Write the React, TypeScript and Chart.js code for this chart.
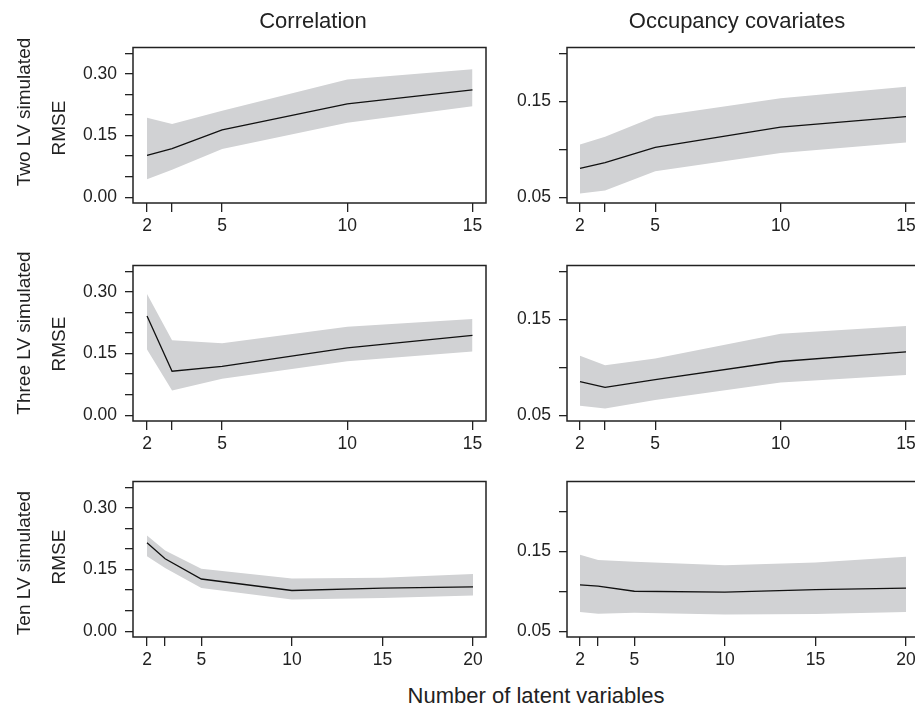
import React, { useEffect, useRef } from "react";
import { Chart, registerables } from "chart.js";

Chart.register(...registerables);

// ---------- data ----------
const xTwoThree = [2, 3, 5, 10, 15];
const xTen = [2, 3, 5, 10, 15, 20];

const corrTwoMean = [0.102, 0.118, 0.164, 0.227, 0.261];
const corrTwoLower = [0.044, 0.067, 0.117, 0.181, 0.221];
const corrTwoUpper = [0.193, 0.178, 0.21, 0.286, 0.311];

const occTwoMean = [0.08, 0.086, 0.102, 0.123, 0.134];
const occTwoLower = [0.054, 0.057, 0.077, 0.096, 0.107];
const occTwoUpper = [0.105, 0.113, 0.134, 0.153, 0.165];

const corrThreeMean = [0.241, 0.107, 0.119, 0.164, 0.194];
const corrThreeLower = [0.16, 0.06, 0.089, 0.131, 0.155];
const corrThreeUpper = [0.295, 0.182, 0.175, 0.215, 0.234];

const occThreeMean = [0.085, 0.079, 0.087, 0.106, 0.116];
const occThreeLower = [0.06, 0.057, 0.066, 0.084, 0.092];
const occThreeUpper = [0.112, 0.102, 0.109, 0.135, 0.143];

const corrTenMean = [0.215, 0.176, 0.127, 0.099, 0.105, 0.108];
const corrTenLower = [0.182, 0.154, 0.105, 0.077, 0.081, 0.087];
const corrTenUpper = [0.233, 0.196, 0.152, 0.128, 0.13, 0.139];

const occTenMean = [0.108, 0.1065, 0.1, 0.099, 0.102, 0.104];
const occTenLower = [0.074, 0.072, 0.073, 0.071, 0.0715, 0.074];
const occTenUpper = [0.1455, 0.139, 0.137, 0.1325, 0.136, 0.143];

const xTicksShort = [2, 3, 5, 10, 15];
const xLabelsShort = ["2", "", "5", "10", "15"];
const xTicksLong = [2, 3, 5, 10, 15, 20];
const xLabelsLong = ["2", "", "5", "10", "15", "20"];

const yTicksCorr = [0, 0.05, 0.1, 0.15, 0.2, 0.25, 0.3, 0.35];
const yLabelsCorr = ["0.00", "", "", "0.15", "", "", "0.30", ""];
const yTicksOcc = [0.05, 0.1, 0.15, 0.2];
const yLabelsOcc = ["0.05", "", "0.15", ""];

const columnTitles = ["Correlation", "Occupancy covariates"];
const rowTitles = ["Two LV simulated", "Three LV simulated", "Ten LV simulated"];
const yAxisTitle = "RMSE";
const xAxisTitle = "Number of latent variables";

// ---------- styling ----------
const FONT = '"Liberation Sans", Arial, Helvetica, sans-serif';
const INK = "#222222";
const BAND = "#d1d2d4";

const framePlugin = {
  id: "frame",
  afterDatasetsDraw(chart: any) {
    const { ctx, chartArea } = chart;
    const { left, top, right, bottom } = chartArea;
    ctx.save();
    ctx.strokeStyle = INK;
    ctx.lineWidth = 1.5;
    ctx.strokeRect(left, top, right - left, bottom - top);
    ctx.restore();
  },
};

type PanelProps = {
  left: number;
  top: number;
  width: number;
  height: number;
  yWidth: number;
  padRight: number;
  xs: number[];
  mean: number[];
  lower: number[];
  upper: number[];
  xMin: number;
  xMax: number;
  xTicks: number[];
  xLabels: string[];
  yMin: number;
  yMax: number;
  yTicks: number[];
  yLabels: string[];
};

const PAD_TOP = 14;
const X_AXIS_H = 40;

function Panel(p: PanelProps) {
  const ref = useRef<HTMLCanvasElement | null>(null);
  useEffect(() => {
    if (!ref.current) return;
    const toPts = (ys: number[]) => p.xs.map((x, i) => ({ x, y: ys[i] }));
    const tickFont = { family: FONT, size: 17.5 };
    const chart = new Chart(ref.current, {
      type: "line",
      data: {
        datasets: [
          {
            data: toPts(p.lower),
            borderWidth: 0,
            borderColor: "rgba(0,0,0,0)",
            pointRadius: 0,
            fill: false,
            order: 3,
          },
          {
            data: toPts(p.upper),
            borderWidth: 0,
            borderColor: "rgba(0,0,0,0)",
            backgroundColor: BAND,
            pointRadius: 0,
            fill: "-1",
            order: 2,
          },
          {
            data: toPts(p.mean),
            borderWidth: 1.3,
            borderColor: "#111111",
            pointRadius: 0,
            fill: false,
            order: 1,
          },
        ],
      } as any,
      options: {
        responsive: false,
        animation: false,
        layout: { padding: { top: PAD_TOP, right: p.padRight, left: 0, bottom: 0 } },
        plugins: {
          legend: { display: false },
          tooltip: { enabled: false },
          title: { display: false },
          filler: { drawTime: "beforeDatasetsDraw" },
        },
        scales: {
          x: {
            type: "linear",
            position: "bottom",
            min: p.xMin,
            max: p.xMax,
            afterBuildTicks: (s: any) => {
              s.ticks = p.xTicks.map((value) => ({ value }));
            },
            afterFit: (s: any) => {
              s.height = X_AXIS_H;
            },
            grid: { drawOnChartArea: false, drawTicks: true, tickLength: 9, color: INK, lineWidth: 1.3 },
            border: { display: false },
            ticks: {
              autoSkip: false,
              maxRotation: 0,
              padding: 4,
              color: INK,
              font: tickFont,
              callback: (value: any) => {
                const i = p.xTicks.indexOf(Number(value));
                return i >= 0 ? p.xLabels[i] : "";
              },
            },
          },
          y: {
            type: "linear",
            position: "left",
            min: p.yMin,
            max: p.yMax,
            afterBuildTicks: (s: any) => {
              s.ticks = p.yTicks.map((value) => ({ value }));
            },
            afterFit: (s: any) => {
              s.width = p.yWidth;
            },
            grid: { drawOnChartArea: false, drawTicks: true, tickLength: 8, color: INK, lineWidth: 1.3 },
            border: { display: false },
            ticks: {
              autoSkip: false,
              padding: 8,
              color: INK,
              font: tickFont,
              callback: (value: any) => {
                const i = p.yTicks.findIndex((t) => Math.abs(t - Number(value)) < 1e-9);
                return i >= 0 ? p.yLabels[i] : "";
              },
            },
          },
        },
      } as any,
      plugins: [framePlugin],
    });
    return () => chart.destroy();
  }, []);
  return (
    <canvas
      ref={ref}
      width={p.width}
      height={p.height}
      style={{ position: "absolute", left: p.left, top: p.top, width: p.width, height: p.height }}
    />
  );
}

const textBase: React.CSSProperties = {
  position: "absolute",
  fontFamily: FONT,
  color: INK,
  whiteSpace: "nowrap",
  lineHeight: 1,
};

function Label(props: { text: string; x: number; y: number; size: number; rotate?: boolean }) {
  return (
    <div
      style={{
        ...textBase,
        left: props.x,
        top: props.y,
        fontSize: props.size,
        transform: props.rotate ? "translate(-50%,-50%) rotate(-90deg)" : "translate(-50%,-50%)",
      }}
    >
      {props.text}
    </div>
  );
}

export default function App() {
  // plot-area rows (top, bottom)
  const rows = [
    [43, 203],
    [261, 421],
    [477, 637],
  ];
  const leftCol = { left: 0, width: 500, yWidth: 133, padRight: 14 };
  const rightCol = { left: 500, width: 430, yWidth: 67, padRight: 11 };

  const rowGeom = (r: number) => ({
    top: rows[r][0] - PAD_TOP,
    height: rows[r][1] - rows[r][0] + PAD_TOP + X_AXIS_H,
  });

  const corrY = { yMin: -0.014, yMax: 0.364, yTicks: yTicksCorr, yLabels: yLabelsCorr };
  const occY = { yMin: 0.044, yMax: 0.206, yTicks: yTicksOcc, yLabels: yLabelsOcc };
  const occYTen = { yMin: 0.0428, yMax: 0.2372, yTicks: yTicksOcc, yLabels: yLabelsOcc };

  const leftXShort = { xs: xTwoThree, xMin: 1.44, xMax: 15.54, xTicks: xTicksShort, xLabels: xLabelsShort };
  const leftXLong = { xs: xTen, xMin: 1.227, xMax: 20.718, xTicks: xTicksLong, xLabels: xLabelsLong };
  const rightXShort = { xs: xTwoThree, xMin: 1.482, xMax: 15.518, xTicks: xTicksShort, xLabels: xLabelsShort };
  const rightXLong = { xs: xTen, xMin: 1.282, xMax: 20.718, xTicks: xTicksLong, xLabels: xLabelsLong };

  return (
    <div
      style={{
        position: "absolute",
        left: 0,
        top: 0,
        width: 915,
        height: 707,
        overflow: "hidden",
        background: "#ffffff",
      }}
    >
      <Panel {...leftCol} {...rowGeom(0)} {...leftXShort} {...corrY} mean={corrTwoMean} lower={corrTwoLower} upper={corrTwoUpper} />
      <Panel {...rightCol} {...rowGeom(0)} {...rightXShort} {...occY} mean={occTwoMean} lower={occTwoLower} upper={occTwoUpper} />
      <Panel {...leftCol} {...rowGeom(1)} {...leftXShort} {...corrY} mean={corrThreeMean} lower={corrThreeLower} upper={corrThreeUpper} />
      <Panel {...rightCol} {...rowGeom(1)} {...rightXShort} {...occY} mean={occThreeMean} lower={occThreeLower} upper={occThreeUpper} />
      <Panel {...leftCol} {...rowGeom(2)} {...leftXLong} {...corrY} mean={corrTenMean} lower={corrTenLower} upper={corrTenUpper} />
      <Panel {...rightCol} {...rowGeom(2)} {...rightXLong} {...occYTen} mean={occTenMean} lower={occTenLower} upper={occTenUpper} />

      <Label text={columnTitles[0]} x={313} y={21} size={22} />
      <Label text={columnTitles[1]} x={737} y={21} size={22} />

      <Label text={rowTitles[0]} x={23} y={112} size={19} rotate />
      <Label text={rowTitles[1]} x={23} y={333} size={19} rotate />
      <Label text={rowTitles[2]} x={23} y={563} size={19} rotate />

      <Label text={yAxisTitle} x={58} y={128} size={19} rotate />
      <Label text={yAxisTitle} x={58} y={344} size={19} rotate />
      <Label text={yAxisTitle} x={58} y={557} size={19} rotate />

      <Label text={xAxisTitle} x={536} y={696} size={22} />
    </div>
  );
}
